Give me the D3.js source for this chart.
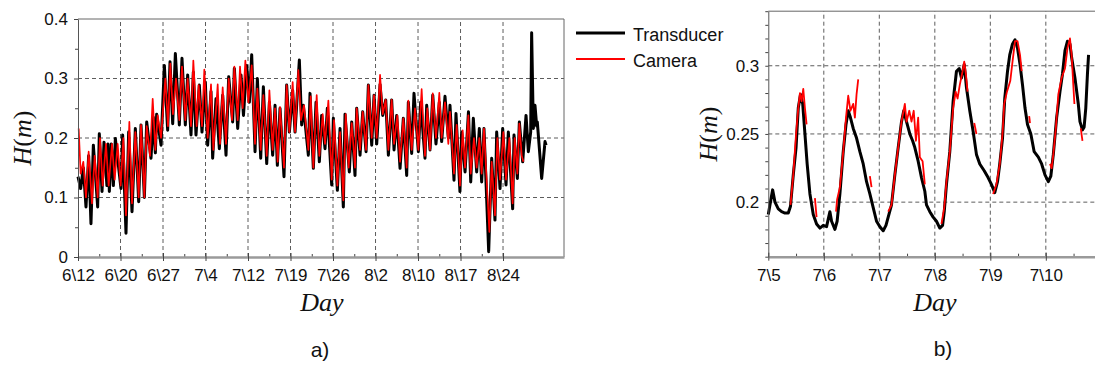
<!DOCTYPE html>
<html>
<head>
<meta charset="utf-8">
<script src="https://cdn.jsdelivr.net/npm/d3@7"></script>
<style>
  body { margin: 0; background: #fff; }
  text { font-family: "Liberation Sans", Arial, sans-serif; fill: #111; }
  .math { font-family: "Liberation Serif", "DejaVu Serif", serif; font-style: italic; }
</style>
</head>
<body>
<svg id="fig" width="1095" height="365"></svg>
<script>
// ---- panel a) : days since 6\12, wave height H (m)
const tickDaysA = [0, 7.5, 15, 22.5, 30, 37.5, 45, 52.5, 60, 67.5, 75];
const tickLabelsA = ['6\\12', '6\\20', '6\\27', '7\\4', '7\\12', '7\\19', '7\\26', '8\\2', '8\\10', '8\\17', '8\\24'];
const yTicksA = [0, 0.1, 0.2, 0.3, 0.4];

const transducerA = [
  [0, 0.135], [0.47, 0.115], [0.94, 0.15], [1.41, 0.084], [1.88, 0.17], [2.29, 0.056], [2.71, 0.188],
  [3.47, 0.084], [3.76, 0.207], [4.24, 0.11], [4.59, 0.193], [5.1, 0.12], [5.3, 0.19], [5.53, 0.11],
  [5.88, 0.19], [6.24, 0.12], [6.59, 0.199], [7.59, 0.115], [7.88, 0.205], [8.47, 0.04], [8.94, 0.21],
  [9.53, 0.076], [10.12, 0.216], [10.71, 0.093], [11.12, 0.222], [11.71, 0.10], [12.12, 0.227],
  [12.88, 0.166], [13.29, 0.235], [13.65, 0.175], [13.88, 0.24], [14.65, 0.188], [15.24, 0.322],
  [15.82, 0.213], [16.24, 0.328], [16.71, 0.224], [17.18, 0.342], [17.88, 0.222], [18.35, 0.334],
  [18.94, 0.222], [19.35, 0.306], [19.94, 0.205], [20.35, 0.311], [20.82, 0.205], [21.41, 0.289],
  [21.88, 0.21], [22.47, 0.294], [22.88, 0.188], [23.47, 0.278], [23.76, 0.166], [24.35, 0.266],
  [24.94, 0.182], [25.53, 0.272], [26.12, 0.171], [26.59, 0.303], [27.29, 0.227], [27.59, 0.317],
  [28.18, 0.216], [28.76, 0.306], [29.2, 0.238], [29.77, 0.322], [30.24, 0.26], [30.65, 0.34],
  [31.24, 0.177], [31.65, 0.30], [32.24, 0.166], [32.71, 0.286], [33.30, 0.157], [33.77, 0.26],
  [34.35, 0.171], [34.77, 0.255], [35.18, 0.154], [35.65, 0.25], [36.35, 0.135], [36.82, 0.289],
  [37.30, 0.21], [37.88, 0.28], [38.30, 0.21], [39.06, 0.331], [39.47, 0.222], [39.77, 0.255],
  [40.65, 0.171], [40.94, 0.275], [41.53, 0.149], [42.0, 0.26], [42.59, 0.16], [43.0, 0.238],
  [43.59, 0.182], [44.0, 0.25], [44.77, 0.121], [45.06, 0.233], [45.77, 0.112], [46.24, 0.216],
  [46.82, 0.084], [47.12, 0.24], [47.88, 0.143], [48.30, 0.227], [48.88, 0.137], [49.18, 0.25],
  [49.77, 0.171], [50.24, 0.244], [50.83, 0.177], [51.24, 0.289], [51.83, 0.188], [52.24, 0.272],
  [52.71, 0.19], [53.3, 0.29], [53.77, 0.238], [54.3, 0.264], [54.77, 0.171], [55.35, 0.264],
  [55.77, 0.18], [56.24, 0.238], [56.83, 0.149], [57.41, 0.233], [58.0, 0.137], [58.29, 0.26],
  [58.88, 0.174], [59.29, 0.275], [60.06, 0.177], [60.47, 0.26], [61.23, 0.166], [61.53, 0.255],
  [62.12, 0.18], [62.6, 0.272], [63.17, 0.19], [63.76, 0.26], [64.17, 0.194], [64.76, 0.27],
  [65.35, 0.2], [65.64, 0.255], [66.35, 0.129], [66.7, 0.241], [67.4, 0.11], [67.7, 0.21],
  [68.3, 0.143], [68.9, 0.244], [69.3, 0.126], [69.76, 0.233], [70.35, 0.143], [70.82, 0.216],
  [71.23, 0.126], [71.64, 0.216], [72.47, 0.009], [73.0, 0.166], [73.58, 0.062], [73.88, 0.21],
  [74.47, 0.115], [74.94, 0.216], [75.53, 0.121], [75.94, 0.21], [76.7, 0.081], [76.94, 0.205],
  [77.53, 0.132], [77.88, 0.227], [78.47, 0.16], [79.06, 0.238], [79.47, 0.177], [79.88, 0.21],
  [80.05, 0.377], [80.35, 0.216], [80.64, 0.255], [80.94, 0.22], [81.05, 0.227], [81.82, 0.132],
  [82.41, 0.194], [82.6, 0.188]
];

const cameraA = [
  [0.12, 0.216], [0.47, 0.14], [0.94, 0.16], [1.41, 0.10], [1.88, 0.177], [2.47, 0.09], [2.94, 0.17],
  [3.47, 0.10], [3.88, 0.20], [4.35, 0.12], [4.94, 0.19], [5.41, 0.12], [6.0, 0.19], [6.47, 0.13],
  [7.0, 0.19], [7.53, 0.12], [8.0, 0.2], [8.47, 0.07], [9.06, 0.227], [9.53, 0.09], [10.12, 0.21],
  [10.71, 0.10], [11.12, 0.222], [11.71, 0.10], [12.12, 0.22], [12.7, 0.17], [13.18, 0.266],
  [13.65, 0.18], [14.06, 0.238], [14.65, 0.2], [15.41, 0.3], [15.88, 0.22], [16.29, 0.325],
  [16.76, 0.24], [17.29, 0.30], [17.88, 0.23], [18.35, 0.32], [18.94, 0.23], [19.35, 0.30],
  [19.94, 0.22], [20.35, 0.33], [20.94, 0.22], [21.29, 0.289], [21.88, 0.22], [22.29, 0.315],
  [22.88, 0.20], [23.47, 0.29], [23.88, 0.18], [24.65, 0.29], [25.06, 0.19], [25.53, 0.285],
  [26.12, 0.19], [26.59, 0.30], [27.18, 0.23], [27.59, 0.32], [28.18, 0.23], [28.59, 0.32],
  [29.06, 0.25], [29.53, 0.33], [30.06, 0.26], [30.65, 0.322], [31.24, 0.19], [31.65, 0.283],
  [32.24, 0.18], [32.71, 0.272], [33.3, 0.17], [33.77, 0.28], [34.35, 0.18], [34.77, 0.25],
  [35.24, 0.16], [35.65, 0.252], [36.35, 0.15], [36.82, 0.289], [37.3, 0.21], [37.88, 0.294],
  [38.3, 0.21], [38.88, 0.314], [39.35, 0.23], [39.88, 0.255], [40.65, 0.18], [41.06, 0.27],
  [41.53, 0.15], [42.12, 0.272], [42.59, 0.17], [43.18, 0.24], [43.59, 0.19], [44.18, 0.263],
  [44.77, 0.13], [45.18, 0.23], [45.77, 0.12], [46.24, 0.21], [46.82, 0.095], [47.24, 0.24],
  [47.76, 0.15], [48.3, 0.225], [48.88, 0.15], [49.18, 0.25], [49.77, 0.18], [50.24, 0.244],
  [50.83, 0.18], [51.24, 0.289], [51.83, 0.2], [52.24, 0.272], [52.71, 0.2], [53.3, 0.306],
  [53.77, 0.24], [54.3, 0.264], [54.77, 0.18], [55.35, 0.264], [55.77, 0.19], [56.35, 0.238],
  [56.83, 0.16], [57.41, 0.233], [58.0, 0.15], [58.29, 0.263], [58.88, 0.18], [59.47, 0.25],
  [60.06, 0.18], [60.64, 0.282], [61.23, 0.17], [61.64, 0.25], [62.12, 0.18], [62.6, 0.275],
  [63.17, 0.2], [63.76, 0.276], [64.17, 0.2], [64.76, 0.26], [65.35, 0.19], [65.64, 0.244],
  [66.35, 0.14], [66.82, 0.222], [67.4, 0.12], [67.88, 0.213], [68.3, 0.15], [68.88, 0.238],
  [69.3, 0.14], [69.88, 0.2], [70.35, 0.15], [70.82, 0.2], [71.23, 0.14], [71.64, 0.216],
  [72.59, 0.042], [73.0, 0.16], [73.58, 0.07], [74.0, 0.2], [74.47, 0.13], [75.06, 0.21],
  [75.53, 0.13], [76.12, 0.2], [76.7, 0.09], [77.06, 0.2], [77.53, 0.14], [77.88, 0.224],
  [78.3, 0.17], [78.6, 0.16]
];

// ---- panel b) : days since 7\5
const tickDaysB = [0, 1, 2, 3, 4, 5];
const tickLabelsB = ['7\\5', '7\\6', '7\\7', '7\\8', '7\\9', '7\\10'];
const yLabelsB = [0.2, 0.25, 0.3];

const transducerB = [
  [0.0, 0.191], [0.03, 0.198], [0.078, 0.209], [0.12, 0.2], [0.18, 0.195], [0.24, 0.193], [0.30, 0.192],
  [0.36, 0.192], [0.40, 0.197], [0.45, 0.22], [0.50, 0.24], [0.54, 0.269], [0.58, 0.279], [0.62, 0.272],
  [0.66, 0.25], [0.70, 0.228], [0.75, 0.206], [0.81, 0.191], [0.87, 0.184], [0.93, 0.181], [0.99, 0.183],
  [1.05, 0.182], [1.11, 0.193], [1.14, 0.186], [1.20, 0.18], [1.24, 0.186], [1.29, 0.206], [1.35, 0.237],
  [1.40, 0.257], [1.44, 0.267], [1.48, 0.262], [1.53, 0.254], [1.59, 0.247], [1.65, 0.237], [1.71, 0.228],
  [1.77, 0.215], [1.83, 0.206], [1.89, 0.196], [1.95, 0.186], [2.01, 0.182], [2.07, 0.179], [2.12, 0.183],
  [2.16, 0.189], [2.22, 0.198], [2.28, 0.22], [2.34, 0.24], [2.40, 0.259], [2.44, 0.267], [2.49, 0.259],
  [2.55, 0.25], [2.60, 0.245], [2.64, 0.24], [2.70, 0.23], [2.76, 0.218], [2.82, 0.208], [2.85, 0.198],
  [2.91, 0.193], [2.97, 0.189], [3.03, 0.186], [3.09, 0.181], [3.14, 0.183], [3.17, 0.193], [3.21, 0.213],
  [3.27, 0.237], [3.33, 0.274], [3.39, 0.296], [3.44, 0.298], [3.48, 0.291], [3.53, 0.301], [3.57, 0.284],
  [3.63, 0.267], [3.69, 0.252], [3.75, 0.235], [3.81, 0.228], [3.89, 0.223], [3.96, 0.218], [4.02, 0.213],
  [4.08, 0.207], [4.13, 0.215], [4.17, 0.228], [4.22, 0.247], [4.26, 0.276], [4.31, 0.296], [4.35, 0.308],
  [4.40, 0.316], [4.445, 0.319], [4.49, 0.313], [4.535, 0.301], [4.58, 0.286], [4.625, 0.269], [4.67, 0.257],
  [4.73, 0.25], [4.79, 0.237], [4.865, 0.233], [4.925, 0.228], [4.985, 0.22], [5.045, 0.215], [5.09, 0.219],
  [5.135, 0.235], [5.195, 0.262], [5.255, 0.281], [5.30, 0.294], [5.345, 0.311], [5.39, 0.318], [5.435, 0.316],
  [5.465, 0.306], [5.525, 0.291], [5.585, 0.272], [5.615, 0.259], [5.66, 0.253], [5.69, 0.255], [5.72, 0.269],
  [5.75, 0.294], [5.77, 0.308]
];

// camera record is broken into pieces
const cameraB = [
  [[0.40, 0.198], [0.45, 0.22], [0.50, 0.25], [0.54, 0.269], [0.57, 0.28], [0.60, 0.274], [0.63, 0.283], [0.66, 0.269], [0.69, 0.257]],
  [[0.84, 0.203], [0.87, 0.189]],
  [[1.22, 0.193], [1.24, 0.202], [1.29, 0.211], [1.35, 0.237], [1.40, 0.262], [1.44, 0.278], [1.48, 0.267], [1.53, 0.272], [1.56, 0.262], [1.59, 0.279], [1.62, 0.29]],
  [[1.83, 0.219], [1.86, 0.211]],
  [[2.16, 0.193], [2.22, 0.198], [2.28, 0.22], [2.34, 0.24], [2.40, 0.259], [2.46, 0.272], [2.49, 0.259], [2.54, 0.267], [2.58, 0.259], [2.62, 0.267], [2.66, 0.245], [2.70, 0.262], [2.73, 0.233], [2.78, 0.23], [2.82, 0.213]],
  [[3.12, 0.184], [3.17, 0.196], [3.21, 0.215], [3.27, 0.237], [3.33, 0.269], [3.376, 0.281], [3.41, 0.276], [3.45, 0.286], [3.50, 0.296], [3.53, 0.303], [3.56, 0.294], [3.59, 0.281]],
  [[3.71, 0.258], [3.75, 0.25]],
  [[4.05, 0.206], [4.11, 0.213], [4.17, 0.228], [4.22, 0.25], [4.25, 0.272], [4.30, 0.281], [4.36, 0.289], [4.40, 0.303], [4.445, 0.318], [4.49, 0.318], [4.535, 0.308], [4.565, 0.296]],
  [[4.70, 0.263], [4.715, 0.258]],
  [[5.075, 0.228], [5.105, 0.225], [5.135, 0.235], [5.18, 0.254], [5.225, 0.279], [5.285, 0.291], [5.345, 0.298], [5.39, 0.313], [5.435, 0.32], [5.465, 0.308], [5.495, 0.286], [5.515, 0.272]],
  [[5.63, 0.254], [5.66, 0.245]]
];

const svg = d3.select('#fig');
const FONT = '"Liberation Sans", Arial, sans-serif';

function hGrid(g, x, y, values) {
  g.selectAll(null).data(values).join('line')
    .attr('x1', x.range()[0]).attr('x2', x.range()[1])
    .attr('y1', d => y(d)).attr('y2', d => y(d))
    .attr('stroke', '#333').attr('stroke-width', 0.8).attr('stroke-dasharray', '4,3');
}
function vGrid(g, x, y, values) {
  g.selectAll(null).data(values).join('line')
    .attr('x1', d => x(d)).attr('x2', d => x(d))
    .attr('y1', y.range()[0]).attr('y2', y.range()[1])
    .attr('stroke', '#333').attr('stroke-width', 0.8).attr('stroke-dasharray', '4,3');
}
function styleAxis(g) {
  g.attr('font-size', 17).attr('font-family', FONT);
  g.selectAll('text').attr('fill', '#111');
  g.selectAll('line').attr('stroke', '#444');
}
function mathLabel(x, y, rotate, parts) {
  const t = svg.append('text').attr('class', 'math').attr('font-size', 26)
    .attr('text-anchor', 'middle')
    .attr('transform', `translate(${x},${y})` + (rotate ? ' rotate(-90)' : ''));
  parts.forEach(p => t.append('tspan').text(p[0]).attr('font-style', p[1] ? 'italic' : 'normal'));
}

// ================= panel a
const xA = d3.scaleLinear().domain([0, 85.76]).range([78, 564]);
const yA = d3.scaleLinear().domain([0, 0.4]).range([257, 19]);
const gA = svg.append('g');

hGrid(gA.append('g'), xA, yA, [0.1, 0.2, 0.3]);
vGrid(gA.append('g'), xA, yA, tickDaysA.slice(1));

// frame (top/right)
gA.append('path').attr('d', `M${xA(0)},${yA(0.4)}H${xA(85.76)}V${yA(0)}`)
  .attr('fill', 'none').attr('stroke', '#666').attr('stroke-width', 1);

const lineA = d3.line().x(d => xA(d[0])).y(d => yA(d[1]));
gA.append('path').datum(transducerA).attr('d', lineA)
  .attr('fill', 'none').attr('stroke', '#000').attr('stroke-width', 3).attr('stroke-linejoin', 'round');
gA.append('path').datum(cameraA).attr('d', lineA)
  .attr('fill', 'none').attr('stroke', '#ff0000').attr('stroke-width', 1.7).attr('stroke-linejoin', 'round');

// y axis a
gA.append('g').attr('transform', `translate(${xA(0)},0)`)
  .call(d3.axisLeft(yA).tickValues([0.05, 0.15, 0.25, 0.35]).tickSize(3).tickFormat(''))
  .call(g => g.select('.domain').remove()).call(styleAxis);
gA.append('g').attr('transform', `translate(${xA(0)},0)`)
  .call(d3.axisLeft(yA).tickValues(yTicksA).tickSizeInner(4).tickSizeOuter(0).tickPadding(6)
    .tickFormat(d => d === 0 ? '0' : d.toFixed(1)))
  .call(styleAxis)
  .call(g => g.select('.domain').attr('stroke', '#555'));

// x axis a
gA.append('g').attr('transform', `translate(0,${yA(0)})`)
  .call(d3.axisBottom(xA).tickValues(tickDaysA.slice(0, -1).map(d => d + 3.75)).tickSize(-3).tickFormat(''))
  .call(g => g.select('.domain').remove()).call(styleAxis);
gA.append('g').attr('transform', `translate(0,${yA(0)})`)
  .call(d3.axisBottom(xA).tickValues(tickDaysA).tickSizeInner(4).tickSizeOuter(0).tickPadding(8)
    .tickFormat((d, i) => tickLabelsA[i]))
  .call(styleAxis)
  .call(g => g.selectAll('.tick line').attr('y1', -4))
  .call(g => g.select('.domain').attr('stroke', '#9a9a9a').attr('stroke-width', 2.5));

mathLabel(31, 138, true, [['H', 1], ['(', 0], ['m', 1], [')', 0]]);
mathLabel(322, 311, false, [['Day', 1]]);
svg.append('text').attr('x', 320).attr('y', 357).attr('text-anchor', 'middle').attr('font-size', 21).text('a)');

// legend
const legend = [['Transducer', '#000', 3, 33], ['Camera', '#ff0000', 2, 59]];
legend.forEach(([name, col, w, ly]) => {
  svg.append('line').attr('x1', 576).attr('x2', 625).attr('y1', ly).attr('y2', ly)
    .attr('stroke', col).attr('stroke-width', w);
  svg.append('text').attr('x', 633).attr('y', ly + 8).attr('font-size', 18).text(name);
});

// ================= panel b
const xB = d3.scaleLinear().domain([0, 5.886]).range([768.3, 1095]);
const yB = d3.scaleLinear().domain([0.16, 0.34]).range([256.7, 11.2]);
const gB = svg.append('g');

hGrid(gB.append('g'), xB, yB, yLabelsB);
vGrid(gB.append('g'), xB, yB, tickDaysB.slice(1));

gB.append('line').attr('x1', xB(0)).attr('x2', 1095).attr('y1', yB(0.34)).attr('y2', yB(0.34))
  .attr('stroke', '#666').attr('stroke-width', 1);

const lineB = d3.line().x(d => xB(d[0])).y(d => yB(d[1]));
gB.append('path').datum(transducerB).attr('d', lineB)
  .attr('fill', 'none').attr('stroke', '#000').attr('stroke-width', 3).attr('stroke-linejoin', 'round');
gB.selectAll('.cam').data(cameraB).join('path').attr('class', 'cam').attr('d', lineB)
  .attr('fill', 'none').attr('stroke', '#ff0000').attr('stroke-width', 1.8).attr('stroke-linejoin', 'round');

gB.append('g').attr('transform', `translate(${xB(0)},0)`)
  .call(d3.axisLeft(yB).tickValues(d3.range(16, 35).map(v => v / 100)).tickSizeInner(3).tickSizeOuter(0).tickPadding(6)
    .tickFormat(d => yLabelsB.some(v => Math.abs(v - d) < 1e-9) ? String(+d.toFixed(2)) : ''))
  .call(styleAxis)
  .call(g => g.select('.domain').attr('stroke', '#555'));

gB.append('g').attr('transform', `translate(0,${yB(0.16)})`)
  .call(d3.axisBottom(xB).tickValues(tickDaysB.map(d => d + 0.5)).tickSize(-3).tickFormat(''))
  .call(g => g.select('.domain').remove()).call(styleAxis);
gB.append('g').attr('transform', `translate(0,${yB(0.16)})`)
  .call(d3.axisBottom(xB).tickValues(tickDaysB).tickSizeInner(4).tickSizeOuter(0).tickPadding(8)
    .tickFormat((d, i) => tickLabelsB[i]))
  .call(styleAxis)
  .call(g => g.selectAll('.tick line').attr('y1', -4))
  .call(g => g.select('.domain').attr('stroke', '#9a9a9a').attr('stroke-width', 2.5));

mathLabel(717, 134, true, [['H', 1], ['(', 0], ['m', 1], [')', 0]]);
mathLabel(935, 311, false, [['Day', 1]]);
svg.append('text').attr('x', 943).attr('y', 356).attr('text-anchor', 'middle').attr('font-size', 21).text('b)');
</script>
</body>
</html>
